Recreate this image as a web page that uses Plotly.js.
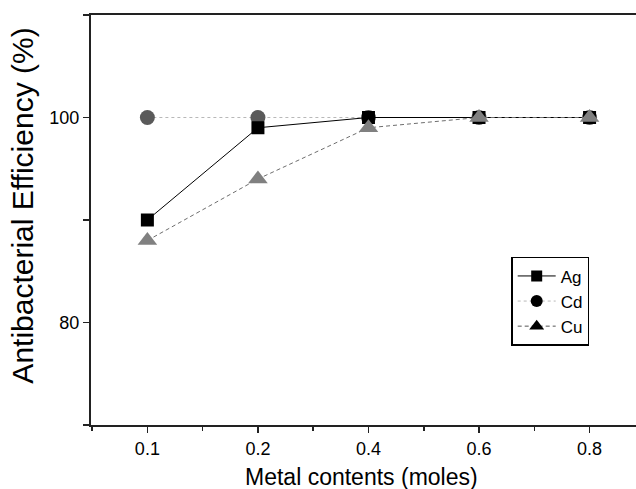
<!DOCTYPE html>
<html>
<head>
<meta charset="utf-8">
<script src="https://cdn.plot.ly/plotly-3.0.1.min.js"></script>
<style>html,body{margin:0;padding:0;background:#fff;}#chart{width:636px;height:489px;}</style>
</head>
<body>
<div id="chart"></div>
<script>
var xLabels = ["0.1", "0.2", "0.4", "0.6", "0.8"];
var agValues = [90, 99, 100, 100, 100];
var cdValues = [100, 100, 100, 100, 100];
var cuValues = [88, 94, 99, 100, 100];
var seriesNames = ["Ag", "Cd", "Cu"];
var xTitle = "Metal contents (moles)";
var yTitle = "Antibacterial Efficiency (%)";

var xIdx = xLabels.map(function (_, i) { return i; });
var font = "Liberation Sans, Arial, sans-serif";

var traces = [
  {x: xIdx, y: cdValues, mode: "lines+markers", showlegend: false,
   line: {color: "#b8b8b8", width: 1, dash: "dot"},
   marker: {symbol: "circle", size: 15, color: "#5a5a5a"}},
  {x: xIdx, y: agValues, mode: "lines+markers", showlegend: false,
   line: {color: "#000", width: 1},
   marker: {symbol: "square", size: 13, color: "#000"}},
  {x: xIdx, y: cuValues, mode: "lines+markers", showlegend: false,
   line: {color: "#6e6e6e", width: 1, dash: "4px,3px"},
   marker: {symbol: "triangle-up", size: 17, color: "#808080"}},
  {x: [null], y: [null], mode: "lines+markers", name: seriesNames[0],
   line: {color: "#000", width: 1}, marker: {symbol: "square", size: 11, color: "#000"}},
  {x: [null], y: [null], mode: "lines+markers", name: seriesNames[1],
   line: {color: "#b8b8b8", width: 1, dash: "dot"}, marker: {symbol: "circle", size: 12, color: "#000"}},
  {x: [null], y: [null], mode: "lines+markers", name: seriesNames[2],
   line: {color: "#555", width: 1, dash: "4px,3px"}, marker: {symbol: "triangle-up", size: 13, color: "#000"}}
];

var layout = {
  width: 636, height: 489,
  margin: {l: 91, r: 0, t: 15, b: 64},
  paper_bgcolor: "#fff", plot_bgcolor: "#fff",
  font: {family: font, color: "#000"},
  showlegend: true,
  legend: {x: 0.771, y: 0.41, xanchor: "left", yanchor: "top",
           bordercolor: "#000", borderwidth: 1.5, bgcolor: "#fff",
           font: {size: 17, family: font}, tracegroupgap: 0, itemwidth: 38},
  xaxis: {
    range: [-0.51, 4.42], tickvals: xIdx, ticktext: xLabels,
    showgrid: false, zeroline: false, showline: true, linecolor: "#222", linewidth: 2,
    mirror: true, ticks: "outside", ticklen: 6, tickwidth: 1.5, tickcolor: "#222",
    tickfont: {size: 18, family: font},
    minor: {tickmode: "linear", tick0: -0.5, dtick: 1, ticks: "outside", ticklen: 4, tickwidth: 1.5, tickcolor: "#222"}
  },
  yaxis: {
    range: [70, 110], tick0: 0, dtick: 20,
    showgrid: false, zeroline: false, showline: true, linecolor: "#222", linewidth: 2,
    ticks: "outside", ticklen: 6, tickwidth: 1.5, tickcolor: "#222",
    tickfont: {size: 18, family: font},
    minor: {tick0: 0, dtick: 10, ticks: "outside", ticklen: 6, tickwidth: 1.5, tickcolor: "#222"}
  },
  annotations: [
    {text: xTitle, xref: "paper", yref: "paper", x: 0.497, y: -0.127, xanchor: "center", yanchor: "middle",
     showarrow: false, font: {size: 23, family: font}},
    {text: yTitle, xref: "paper", yref: "paper", x: -0.1248, y: 0.535, xanchor: "center", yanchor: "middle",
     textangle: -90, showarrow: false, font: {size: 30, family: font}}
  ]
};

Plotly.newPlot("chart", traces, layout, {displayModeBar: false, staticPlot: true});
</script>
</body>
</html>
